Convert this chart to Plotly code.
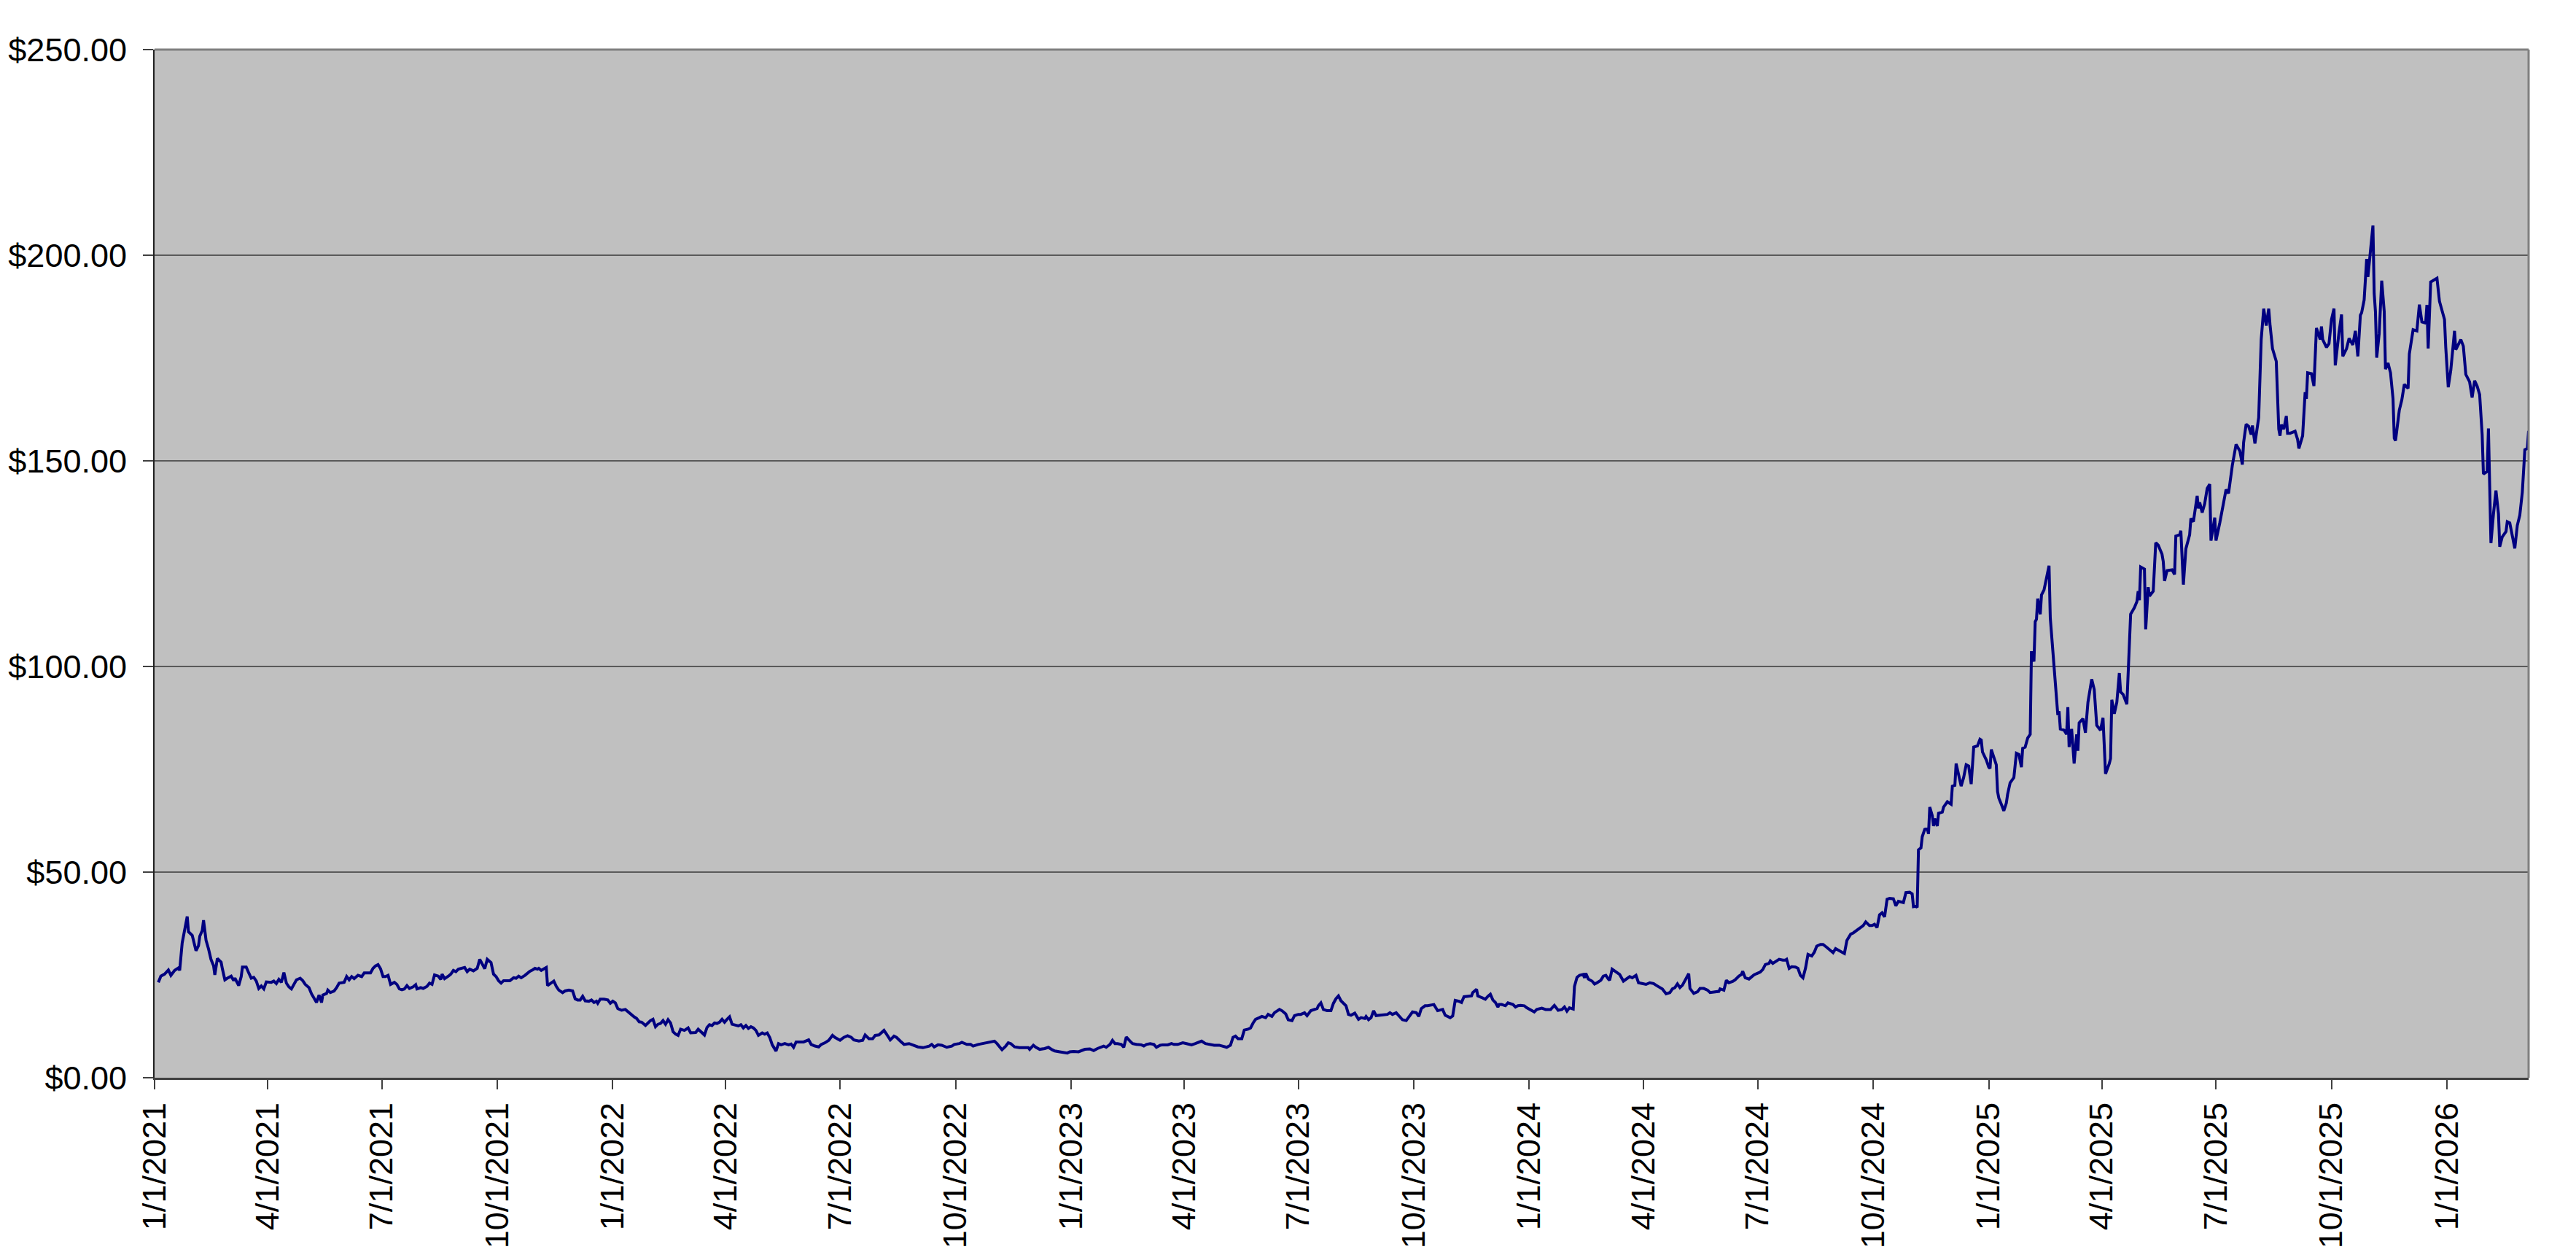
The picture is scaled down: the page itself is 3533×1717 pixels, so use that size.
import pandas as pd
import plotly.graph_objects as go

# closing prices, keyed by days since 1/1/2021
start_date = "2021-01-01"

days_2021 = [3, 5, 8, 11, 13, 16, 19, 20, 22, 24, 26, 27, 30, 33, 35, 36, 38, 39, 41, 43, 45, 47, 48, 50, 53, 54,
             56, 58, 61, 63, 64, 67, 69, 70, 73, 75, 77, 79, 81, 83, 85, 87, 89, 93, 95, 97, 99, 101, 103, 105, 107,
             109, 111, 113, 116, 118, 120, 123, 125, 127, 129, 131, 133, 134, 137, 138, 140, 143, 145, 147, 151, 153,
             155, 157, 159, 162, 165, 167, 169, 172, 174, 176, 178, 180, 182, 184, 186, 188, 191, 193, 195, 197, 199,
             201, 203, 206, 208, 209, 212, 214, 217, 219, 221, 223, 226, 228, 229, 231, 234, 236, 238, 240, 242, 245,
             247, 249, 251, 254, 257, 259, 261, 263, 265, 268, 270, 272, 274, 276, 278, 281, 283, 286, 288, 290, 292,
             295, 297, 299, 301, 303, 305, 306, 308, 310, 312, 313, 316, 318, 320, 322, 325, 327, 330, 333, 335, 337,
             339, 341, 343, 346, 348, 350, 352, 353, 355, 358, 361, 363]
close_2021 = [23.2, 24.7, 25.2, 26.2, 24.9, 26.1, 26.7, 26.1, 32.8, 36.4, 39.2, 35.5, 34.6, 30.9, 32.1, 34.4, 35.8,
              38.3, 33.4, 31.3, 28.7, 27.2, 25.0, 29.0, 28.1, 26.5, 23.8, 24.2, 24.7, 23.6, 24.2, 22.4, 24.6, 26.9,
              26.9, 25.5, 24.2, 24.4, 23.5, 21.7, 22.3, 21.6, 23.3, 23.2, 23.5, 22.9, 23.9, 23.2, 25.6, 23.0, 22.1,
              21.6, 22.7, 23.8, 24.2, 23.6, 22.7, 21.9, 20.4, 19.5, 18.3, 20.1, 18.3, 20.1, 20.5, 21.3, 20.7, 21.1,
              21.9, 23.0, 23.2, 24.6, 23.8, 24.6, 24.1, 24.9, 24.6, 25.5, 25.5, 25.5, 26.6, 27.2, 27.5, 26.5, 24.6,
              24.6, 24.9, 22.7, 23.2, 22.7, 21.6, 21.4, 21.6, 22.4, 21.7, 22.1, 22.6, 21.6, 21.9, 21.7, 22.2, 23.0,
              22.7, 25.0, 24.7, 23.9, 25.2, 24.1, 24.7, 25.2, 26.1, 25.8, 26.4, 26.6, 26.8, 25.8, 26.4, 26.0, 26.6,
              28.8, 27.5, 26.5, 28.8, 28.0, 25.2, 24.6, 23.6, 23.0, 23.6, 23.5, 23.6, 24.3, 24.2, 24.7, 24.3, 24.9,
              25.5, 25.9, 26.2, 26.6, 26.4, 26.6, 26.1, 26.5, 26.8, 22.4, 23.0, 23.5, 22.2, 21.3, 20.7, 21.1, 21.3,
              21.1, 19.2, 18.9, 18.9, 19.8, 18.7, 18.6, 18.9, 18.3, 18.6, 18.1, 19.1, 19.1, 18.9, 18.1]

days_2022 = [365, 367, 369, 372, 375, 377, 379, 382, 384, 386, 388, 391, 393, 395, 397, 399, 401, 403, 405, 407, 409,
             411, 413, 415, 417, 419, 422, 425, 427, 429, 431, 433, 436, 438, 440, 442, 444, 446, 448, 450, 452, 454,
             456, 458, 460, 463, 465, 467, 469, 471, 473, 475, 477, 479, 481, 484, 486, 488, 490, 492, 495, 497, 499,
             502, 505, 507, 509, 511, 515, 517, 521, 523, 526, 529, 531, 534, 537, 540, 542, 546, 549, 552, 555, 557,
             561, 564, 566, 569, 572, 574, 577, 579, 581, 583, 586, 589, 591, 594, 597, 601, 605, 608, 612, 617, 619,
             621, 624, 627, 631, 635, 637, 641, 643, 647, 650, 652, 656, 659, 662, 665, 669, 671, 673, 675, 678, 680,
             682, 685, 689, 692, 696, 697, 700, 702, 705, 709, 712, 715, 717, 721, 724, 727, 729]
close_2022 = [18.6, 18.2, 16.8, 16.4, 16.6, 16.1, 15.4, 14.8, 14.4, 13.6, 13.5, 12.7, 13.3, 13.9, 14.2, 12.4, 13.0,
              13.2, 13.9, 13.0, 14.1, 13.3, 11.2, 10.6, 10.3, 11.8, 11.5, 12.1, 10.9, 10.9, 11.0, 11.8, 10.9, 10.4,
              12.2, 12.9, 12.7, 13.3, 13.2, 13.5, 14.2, 13.5, 14.2, 14.8, 13.0, 12.7, 12.6, 12.9, 12.1, 12.7, 12.0,
              12.4, 12.1, 11.5, 10.3, 10.9, 10.6, 10.9, 9.8, 8.0, 6.5, 8.3, 8.0, 8.3, 8.0, 8.2, 7.4, 8.7, 8.7, 8.7,
              9.2, 8.1, 7.7, 7.5, 8.1, 8.5, 9.1, 10.3, 9.8, 9.1, 9.8, 10.2, 9.8, 9.2, 8.9, 9.1, 10.4, 9.5, 9.5, 10.3,
              10.4, 10.9, 11.5, 10.6, 9.2, 10.1, 9.8, 8.9, 8.1, 8.3, 7.9, 7.5, 7.3, 7.7, 8.1, 7.5, 8.0, 7.9, 7.4, 7.7,
              8.1, 8.3, 8.6, 8.1, 8.1, 7.7, 8.1, 8.3, 8.6, 8.7, 8.9, 8.3, 7.4, 6.8, 7.7, 8.5, 8.3, 7.5, 7.3, 7.3, 7.3,
              6.9, 7.9, 7.4, 6.9, 7.1, 7.4, 6.8, 6.5, 6.3, 6.1, 6.0, 6.3]

days_2023 = [732, 736, 739, 741, 745, 748, 751, 753, 756, 758, 761, 763, 765, 767, 770, 772, 774, 777, 779, 782, 786,
             788, 790, 793, 796, 798, 801, 803, 807, 810, 812, 815, 819, 822, 826, 829, 832, 834, 837, 841, 844, 848,
             851, 854, 857, 859, 861, 863, 866, 868, 871, 873, 875, 877, 880, 882, 885, 887, 890, 892, 896, 898, 901,
             903, 906, 908, 911, 913, 916, 918, 921, 924, 926, 927, 929, 931, 934, 937, 939, 941, 943, 945, 947, 949,
             951, 953, 956, 959, 961, 964, 965, 967, 969, 971, 973, 976, 979, 982, 984, 986, 989, 991, 994, 997, 1000,
             1002, 1005, 1007, 1009, 1012, 1014, 1019, 1022, 1026, 1028, 1032, 1034, 1036, 1039, 1041, 1043, 1046,
             1049, 1050, 1053, 1054, 1057, 1060, 1062, 1064, 1066, 1068, 1070, 1071, 1073, 1076, 1078, 1080, 1082,
             1084, 1086, 1088, 1091, 1093]
close_2023 = [6.4, 6.3, 6.6, 6.9, 7.0, 6.6, 7.1, 7.4, 7.7, 7.4, 8.1, 9.1, 8.3, 8.3, 8.1, 7.4, 9.9, 8.9, 8.3, 8.1, 8.0,
              7.7, 8.1, 8.3, 8.1, 7.4, 7.9, 8.0, 8.0, 8.3, 8.1, 8.1, 8.5, 8.3, 8.0, 8.3, 8.6, 8.9, 8.3, 8.0, 7.9, 7.9,
              7.7, 7.4, 7.9, 9.8, 10.1, 9.5, 9.5, 11.6, 11.8, 12.1, 13.3, 14.2, 14.6, 14.9, 14.6, 15.4, 14.9, 15.8,
              16.6, 16.3, 15.5, 14.1, 13.9, 15.1, 15.4, 15.4, 15.8, 15.1, 16.3, 16.6, 16.8, 17.5, 18.2, 16.6, 16.3,
              16.3, 18.1, 19.2, 19.9, 18.7, 18.1, 17.5, 15.4, 15.2, 15.7, 14.2, 14.6, 14.4, 14.9, 14.1, 14.6, 16.3,
              15.1, 15.2, 15.2, 15.4, 15.8, 15.4, 15.8, 15.2, 14.1, 13.9, 15.1, 16.0, 15.8, 14.9, 16.8, 17.5, 17.5,
              17.8, 16.3, 16.6, 15.2, 14.6, 15.0, 18.8, 18.6, 18.3, 19.7, 19.8, 19.9, 20.7, 21.5, 19.9, 19.5, 19.1,
              19.8, 20.3, 18.9, 18.3, 17.2, 17.8, 17.8, 17.5, 18.2, 18.0, 17.8, 17.2, 17.5, 17.6, 17.5, 17.0]

days_2024 = [1095, 1099, 1101, 1105, 1108, 1112, 1115, 1118, 1121, 1123, 1125, 1127, 1130, 1131, 1133, 1135, 1138,
             1139, 1140, 1142, 1145, 1147, 1149, 1152, 1154, 1156, 1158, 1159, 1161, 1163, 1166, 1167, 1170, 1172,
             1175, 1177, 1180, 1182, 1185, 1188, 1191, 1194, 1196, 1198, 1201, 1204, 1207, 1209, 1211, 1213, 1215,
             1217, 1220, 1222, 1223, 1226, 1229, 1231, 1234, 1237, 1239, 1243, 1246, 1247, 1250, 1252, 1254, 1257,
             1259, 1262, 1264, 1265, 1267, 1270, 1272, 1274, 1276, 1279, 1281, 1283, 1286, 1287, 1289, 1292, 1294,
             1297, 1299, 1300, 1302, 1304, 1307, 1309, 1311, 1313, 1315, 1317, 1320, 1322, 1324, 1327, 1329, 1332,
             1334, 1337, 1339, 1342, 1344, 1346, 1348, 1351, 1353, 1356, 1358, 1361, 1363, 1366, 1368, 1370, 1372,
             1374, 1376, 1378, 1380, 1382, 1385, 1387, 1389, 1391, 1393, 1395, 1398, 1400, 1401, 1403, 1404, 1405,
             1407, 1408, 1410, 1412, 1413, 1414, 1416, 1417, 1418, 1420, 1421, 1424, 1425, 1428, 1430, 1431, 1432,
             1434, 1435, 1437, 1439, 1441, 1443, 1445, 1447, 1449, 1452, 1454, 1455, 1456, 1459]
close_2024 = [16.6, 16.0, 16.6, 16.9, 16.6, 16.6, 17.6, 16.4, 16.6, 17.2, 16.2, 17.0, 16.7, 22.2, 24.4, 24.9, 25.1,
              24.3, 25.4, 24.0, 23.5, 22.8, 23.1, 23.7, 24.7, 24.9, 24.0, 23.7, 26.4, 26.0, 25.4, 25.1, 23.5, 24.0,
              24.6, 24.3, 24.9, 23.1, 22.9, 22.7, 23.1, 22.9, 22.5, 22.2, 21.6, 20.4, 20.7, 21.6, 21.9, 22.8, 21.9,
              22.5, 24.0, 25.3, 21.7, 20.5, 20.9, 21.7, 21.7, 21.3, 20.7, 20.9, 21.0, 21.6, 21.3, 23.7, 23.1, 23.4,
              23.8, 24.7, 25.1, 25.9, 24.3, 24.0, 24.6, 25.0, 25.3, 25.7, 26.3, 27.5, 27.8, 28.4, 27.8, 28.4, 28.8,
              28.6, 28.6, 28.8, 26.6, 27.0, 26.9, 26.6, 24.9, 24.3, 26.6, 30.0, 29.6, 30.5, 32.0, 32.4, 32.4, 31.7,
              31.1, 30.4, 31.4, 30.8, 30.4, 30.2, 33.4, 34.9, 35.2, 35.9, 36.5, 37.0, 37.9, 37.0, 37.0, 37.3, 36.5,
              39.6, 40.1, 39.1, 43.4, 43.6, 43.5, 41.8, 42.9, 42.8, 42.6, 45.0, 45.1, 44.7, 41.6, 41.7, 41.4, 55.4,
              55.9, 58.6, 60.4, 60.6, 59.3, 65.8, 63.7, 61.2, 63.0, 61.2, 64.3, 64.6, 65.8, 67.1, 66.8, 66.5, 70.9,
              71.1, 76.4, 73.6, 70.9, 73.0, 76.1, 75.8, 71.4, 80.4, 80.7, 82.3, 82.1, 79.2, 77.3]

days_2025 = [1461, 1462, 1463, 1465, 1467, 1468, 1469, 1471, 1473, 1475, 1476, 1478, 1480, 1481, 1483, 1485, 1487,
             1488, 1490, 1492, 1494, 1495, 1497, 1498, 1499, 1500, 1502, 1503, 1505, 1509, 1510, 1512, 1514, 1516,
             1517, 1518, 1521, 1523, 1524, 1525, 1527, 1529, 1531, 1532, 1533, 1536, 1538, 1539, 1540, 1543, 1545,
             1547, 1550, 1552, 1554, 1557, 1558, 1559, 1561, 1563, 1565, 1566, 1568, 1571, 1574, 1577, 1579, 1580,
             1581, 1582, 1585, 1586, 1587, 1588, 1589, 1592, 1594, 1596, 1599, 1600, 1601, 1603, 1607, 1609, 1610,
             1613, 1614, 1616, 1618, 1621, 1622, 1624, 1627, 1628, 1629, 1631, 1633, 1635, 1637, 1638, 1641, 1642,
             1645, 1648, 1650, 1652, 1655, 1658, 1661, 1663, 1664, 1666, 1668, 1670, 1671, 1673, 1676, 1678, 1680,
             1682, 1684, 1685, 1687, 1690, 1692, 1693, 1694, 1696, 1698, 1699, 1701, 1705, 1707, 1708, 1711, 1713,
             1714, 1715, 1718, 1720, 1722, 1725, 1726, 1727, 1730, 1732, 1734, 1736, 1737, 1740, 1742, 1743, 1746,
             1748, 1751, 1753, 1755, 1757, 1758, 1760, 1762, 1763, 1765, 1767, 1768, 1769, 1770, 1772, 1774, 1776,
             1777, 1779, 1781, 1783, 1784, 1785, 1788, 1790, 1792, 1795, 1796, 1799, 1802, 1804, 1806, 1809, 1810,
             1811, 1813, 1818, 1820, 1824, 1825]
close_2025 = [75.5, 75.2, 79.8, 78.0, 76.1, 69.6, 68.0, 66.5, 64.9, 66.8, 68.9, 71.7, 72.4, 73.0, 78.9, 78.6, 75.5,
              80.1, 80.4, 82.6, 83.5, 103.7, 101.2, 110.9, 111.5, 116.5, 112.7, 117.4, 118.6, 124.5, 111.8, 103.1,
              96.9, 88.2, 89.1, 84.8, 84.5, 83.5, 90.1, 80.4, 84.8, 76.4, 83.5, 79.5, 86.3, 87.3, 83.9, 87.3, 91.3,
              96.9, 94.4, 85.7, 84.5, 87.5, 73.9, 76.4, 77.6, 91.9, 88.5, 91.3, 98.4, 93.8, 93.2, 90.8, 112.7, 114.3,
              115.8, 118.3, 116.1, 124.2, 123.7, 109.0, 113.0, 119.3, 117.1, 118.3, 130.1, 129.5, 127.3, 125.5, 120.8,
              123.3, 123.5, 122.4, 131.7, 132.0, 133.0, 119.9, 128.6, 132.0, 136.0, 135.2, 141.5, 138.4, 139.9, 137.4,
              139.6, 143.3, 144.3, 130.6, 136.2, 130.6, 134.9, 139.6, 143.0, 142.1, 148.9, 154.0, 152.4, 149.1, 154.5,
              158.9, 158.4, 156.4, 158.6, 154.2, 160.5, 179.5, 187.0, 182.9, 187.0, 183.2, 177.3, 174.2, 157.7, 156.1,
              158.8, 157.7, 160.9, 156.7, 156.7, 157.2, 155.2, 153.0, 156.1, 166.7, 165.1, 171.4, 171.2, 168.2, 182.3,
              179.5, 182.7, 179.5, 177.6, 178.5, 184.4, 187.0, 173.2, 181.3, 185.6, 175.4, 177.3, 179.8, 178.2, 181.6,
              175.4, 185.4, 186.0, 189.1, 199.1, 194.7, 201.2, 207.2, 190.7, 186.3, 175.1, 181.0, 193.8, 186.3, 172.3,
              173.8, 171.4, 165.1, 155.5, 154.9, 162.3, 164.8, 168.6, 167.6, 176.0, 181.9, 181.6, 188.0, 183.8, 183.5,
              187.9, 177.3, 193.5, 194.4, 188.8, 184.4, 177.6]

days_2026 = [1827, 1829, 1830, 1832, 1833, 1835, 1837, 1839, 1841, 1844, 1846, 1848, 1850, 1852, 1854, 1855, 1858,
             1859, 1860, 1861, 1863, 1865, 1867, 1868, 1870, 1873, 1874, 1876, 1878, 1880, 1882, 1884, 1886, 1887,
             1888, 1890, 1891]
close_2026 = [167.9, 172.0, 175.1, 181.6, 177.0, 178.2, 179.5, 177.9, 171.0, 169.2, 165.4, 169.5, 168.2, 166.1, 156.4,
              146.8, 147.4, 157.9, 142.7, 130.0, 137.1, 142.8, 137.1, 129.1, 131.5, 132.8, 135.2, 134.9, 131.8, 128.7,
              134.3, 136.8, 142.4, 147.1, 152.7, 153.0, 157.3]

days = days_2021 + days_2022 + days_2023 + days_2024 + days_2025 + days_2026
close = close_2021 + close_2022 + close_2023 + close_2024 + close_2025 + close_2026
dates = pd.Timestamp(start_date) + pd.to_timedelta(days, unit="D")

FONT = "Liberation Sans, Arial, sans-serif"

fig = go.Figure()
fig.add_trace(go.Scatter(x=dates, y=close, mode="lines",
                         line=dict(color="#000080", width=4), showlegend=False))

# page body adds an 8px offset, so the figure is sized 8px smaller
fig.update_layout(
    width=3525, height=1709,
    margin=dict(l=204, r=65, t=60, b=239),
    paper_bgcolor="white",
    plot_bgcolor="#C0C0C0",
    font=dict(family=FONT, size=45, color="black"),
    showlegend=False,
)

fig.update_xaxes(
    type="date",
    range=[start_date, dates[-1]],
    tick0=start_date, dtick="M3", tickformat="%-m/%-d/%Y",
    tickangle=-90,
    tickfont=dict(size=45),
    ticks="outside", ticklen=13, tickwidth=1.5, tickcolor="#404040",
    ticklabelstandoff=0,
    showgrid=False, zeroline=False,
    showline=True, linecolor="#404040", linewidth=3,
    automargin=False,
)

fig.update_yaxes(
    range=[0, 250], dtick=50,
    tickprefix="$", tickformat=",.2f",
    ticks="outside", ticklen=14, tickwidth=1.5, tickcolor="#404040",
    ticklabelstandoff=13,
    showgrid=True, gridcolor="#5a5a5a", gridwidth=1.8,
    zeroline=False,
    showline=True, linecolor="#202020", linewidth=2,
    automargin=False,
)

# grey frame on top and right of the plot area
fig.add_shape(type="line", xref="paper", yref="paper", x0=0, x1=1, y0=1, y1=1,
              line=dict(color="#808080", width=3))
fig.add_shape(type="line", xref="paper", yref="paper", x0=1, x1=1, y0=0, y1=1,
              line=dict(color="#808080", width=3))

fig.write_html("out.html")
